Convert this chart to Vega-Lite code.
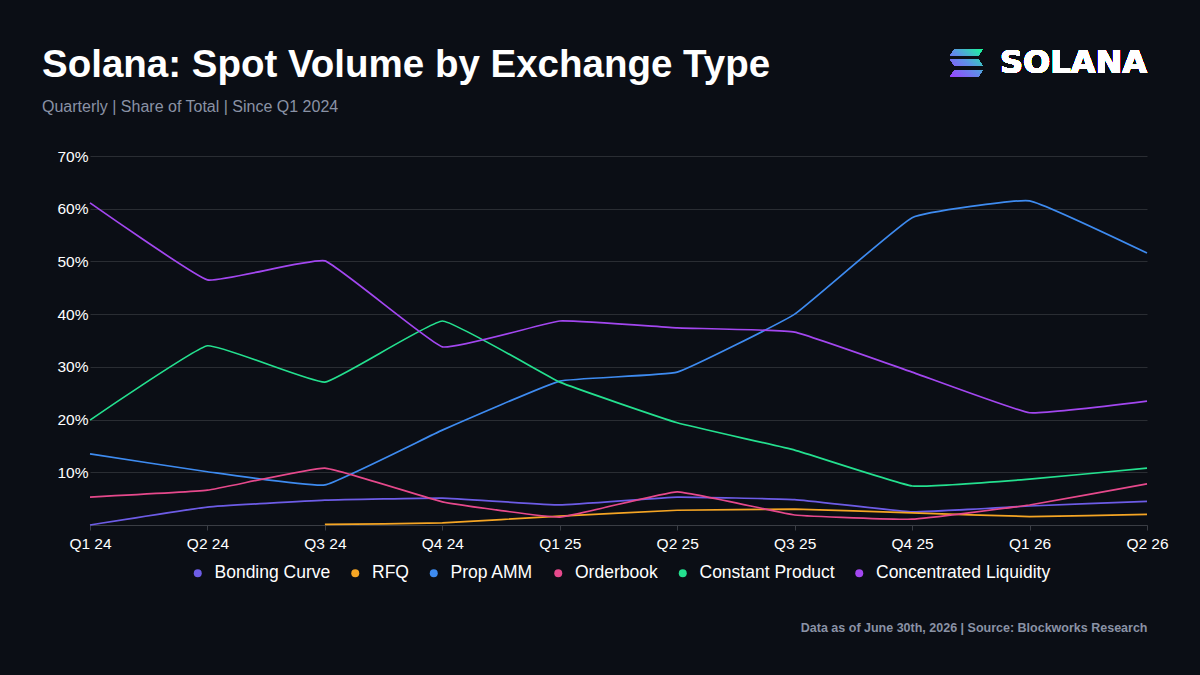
{
  "$schema": "https://vega.github.io/schema/vega-lite/v6.json",
  "autosize": "none",
  "width": 1057,
  "height": 369,
  "padding": {"left": 90, "top": 156, "right": 53, "bottom": 150},
  "background": "#0B0E15",
  "title": {
    "text": "Solana: Spot Volume by Exchange Type",
    "subtitle": "Quarterly | Share of Total | Since Q1 2024",
    "anchor": "start",
    "frame": "group",
    "dx": -48,
    "dy": 91,
    "offset": 22,
    "font": "Liberation Sans",
    "fontSize": 38.5,
    "fontWeight": "bold",
    "color": "#FFFFFF",
    "subtitleFont": "Liberation Sans",
    "subtitleFontSize": 16,
    "subtitleColor": "#8A92A5",
    "subtitlePadding": 13
  },
  "data": {
    "values": [
      {"quarter": "Q1 24", "type": "Bonding Curve", "share": 0.0},
      {"quarter": "Q2 24", "type": "Bonding Curve", "share": 0.034},
      {"quarter": "Q3 24", "type": "Bonding Curve", "share": 0.047},
      {"quarter": "Q4 24", "type": "Bonding Curve", "share": 0.051},
      {"quarter": "Q1 25", "type": "Bonding Curve", "share": 0.038},
      {"quarter": "Q2 25", "type": "Bonding Curve", "share": 0.053},
      {"quarter": "Q3 25", "type": "Bonding Curve", "share": 0.048},
      {"quarter": "Q4 25", "type": "Bonding Curve", "share": 0.025},
      {"quarter": "Q1 26", "type": "Bonding Curve", "share": 0.036},
      {"quarter": "Q2 26", "type": "Bonding Curve", "share": 0.045},
      {"quarter": "Q3 24", "type": "RFQ", "share": 0.001},
      {"quarter": "Q4 24", "type": "RFQ", "share": 0.004},
      {"quarter": "Q1 25", "type": "RFQ", "share": 0.017},
      {"quarter": "Q2 25", "type": "RFQ", "share": 0.028},
      {"quarter": "Q3 25", "type": "RFQ", "share": 0.030},
      {"quarter": "Q4 25", "type": "RFQ", "share": 0.023},
      {"quarter": "Q1 26", "type": "RFQ", "share": 0.016},
      {"quarter": "Q2 26", "type": "RFQ", "share": 0.020},
      {"quarter": "Q1 24", "type": "Prop AMM", "share": 0.135},
      {"quarter": "Q2 24", "type": "Prop AMM", "share": 0.101},
      {"quarter": "Q3 24", "type": "Prop AMM", "share": 0.076},
      {"quarter": "Q4 24", "type": "Prop AMM", "share": 0.18},
      {"quarter": "Q1 25", "type": "Prop AMM", "share": 0.273},
      {"quarter": "Q2 25", "type": "Prop AMM", "share": 0.29},
      {"quarter": "Q3 25", "type": "Prop AMM", "share": 0.40},
      {"quarter": "Q4 25", "type": "Prop AMM", "share": 0.583},
      {"quarter": "Q1 26", "type": "Prop AMM", "share": 0.615},
      {"quarter": "Q2 26", "type": "Prop AMM", "share": 0.516},
      {"quarter": "Q1 24", "type": "Orderbook", "share": 0.053},
      {"quarter": "Q2 24", "type": "Orderbook", "share": 0.066},
      {"quarter": "Q3 24", "type": "Orderbook", "share": 0.108},
      {"quarter": "Q4 24", "type": "Orderbook", "share": 0.044},
      {"quarter": "Q1 25", "type": "Orderbook", "share": 0.015},
      {"quarter": "Q2 25", "type": "Orderbook", "share": 0.063},
      {"quarter": "Q3 25", "type": "Orderbook", "share": 0.019},
      {"quarter": "Q4 25", "type": "Orderbook", "share": 0.011},
      {"quarter": "Q1 26", "type": "Orderbook", "share": 0.038},
      {"quarter": "Q2 26", "type": "Orderbook", "share": 0.078},
      {"quarter": "Q1 24", "type": "Constant Product", "share": 0.199},
      {"quarter": "Q2 24", "type": "Constant Product", "share": 0.34},
      {"quarter": "Q3 24", "type": "Constant Product", "share": 0.271},
      {"quarter": "Q4 24", "type": "Constant Product", "share": 0.387},
      {"quarter": "Q1 25", "type": "Constant Product", "share": 0.271},
      {"quarter": "Q2 25", "type": "Constant Product", "share": 0.194},
      {"quarter": "Q3 25", "type": "Constant Product", "share": 0.142},
      {"quarter": "Q4 25", "type": "Constant Product", "share": 0.074},
      {"quarter": "Q1 26", "type": "Constant Product", "share": 0.087},
      {"quarter": "Q2 26", "type": "Constant Product", "share": 0.108},
      {"quarter": "Q1 24", "type": "Concentrated Liquidity", "share": 0.611},
      {"quarter": "Q2 24", "type": "Concentrated Liquidity", "share": 0.465},
      {"quarter": "Q3 24", "type": "Concentrated Liquidity", "share": 0.501},
      {"quarter": "Q4 24", "type": "Concentrated Liquidity", "share": 0.338},
      {"quarter": "Q1 25", "type": "Concentrated Liquidity", "share": 0.387},
      {"quarter": "Q2 25", "type": "Concentrated Liquidity", "share": 0.374},
      {"quarter": "Q3 25", "type": "Concentrated Liquidity", "share": 0.366},
      {"quarter": "Q4 25", "type": "Concentrated Liquidity", "share": 0.29},
      {"quarter": "Q1 26", "type": "Concentrated Liquidity", "share": 0.213},
      {"quarter": "Q2 26", "type": "Concentrated Liquidity", "share": 0.235}
    ]
  },
  "layer": [
    {
      "mark": {"type": "line", "interpolate": "cardinal", "tension": 0.7, "strokeWidth": 1.7},
      "encoding": {
        "x": {
          "field": "quarter",
          "type": "ordinal",
          "sort": ["Q1 24", "Q2 24", "Q3 24", "Q4 24", "Q1 25", "Q2 25", "Q3 25", "Q4 25", "Q1 26", "Q2 26"],
          "scale": {"type": "point", "padding": 0},
          "axis": {
            "title": "Data as of June 30th, 2026 | Source: Blockworks Research",
            "titleAnchor": "end",
            "titleAlign": "right",
            "titleBaseline": "alphabetic",
            "titleY": 106,
            "titleFont": "Liberation Sans",
            "titleFontSize": 12.5,
            "titleFontWeight": "bold",
            "titleColor": "#8A92A5",
            "labelAngle": 0,
            "labelFont": "Liberation Sans",
            "labelFontSize": 15.5,
            "labelColor": "#FFFFFF",
            "labelPadding": 6,
            "domainColor": "#3A3D44",
            "tickColor": "#3A3D44",
            "tickSize": 5,
            "grid": false
          }
        },
        "y": {
          "field": "share",
          "type": "quantitative",
          "scale": {"domain": [0, 0.7], "nice": false},
          "axis": {
            "title": null,
            "values": [0, 0.1, 0.2, 0.3, 0.4, 0.5, 0.6, 0.7],
            "labelExpr": "datum.value == 0 ? '' : format(datum.value, '.0%')",
            "labelFont": "Liberation Sans",
            "labelFontSize": 15.5,
            "labelColor": "#FFFFFF",
            "labelPadding": 2,
            "domain": false,
            "ticks": false,
            "gridColor": "#2A2D33",
            "gridWidth": 1.2
          }
        },
        "color": {
          "field": "type",
          "type": "nominal",
          "scale": {
            "domain": ["Bonding Curve", "RFQ", "Prop AMM", "Orderbook", "Constant Product", "Concentrated Liquidity"],
            "range": ["#6D5CE6", "#F5A524", "#3E8BF0", "#E6498C", "#24E08F", "#A347F0"]
          },
          "legend": {
            "title": null,
            "orient": "none",
            "direction": "horizontal",
            "legendX": 99,
            "legendY": 408,
            "symbolType": "circle",
            "symbolSize": 64,
            "symbolStrokeWidth": 0,
            "labelFont": "Liberation Sans",
            "labelFontSize": 17.5,
            "labelColor": "#FFFFFF",
            "labelLimit": 300,
            "columnPadding": 15.5,
            "labelOffset": 8,
            "encode": {
              "symbols": {
                "update": {
                  "fill": {"scale": "color", "field": "value"},
                  "fillOpacity": {"value": 1}
                }
              }
            }
          }
        }
      }
    },
    {
      "mark": {
        "type": "text",
        "text": "SOLANA",
        "align": "right",
        "baseline": "middle",
        "font": "DejaVu Sans",
        "fontSize": 32,
        "fontWeight": "bold",
        "color": "#FFFFFF"
      },
      "encoding": {
        "x": {"datum": "Q2 26"},
        "y": {"datum": 0.877}
      }
    },
    {
      "mark": {
        "type": "point",
        "filled": true,
        "opacity": 1,
        "size": 1024,
        "xOffset": -63,
        "shape": "M -0.75 -0.85 L 1 -0.85 L 0.75 -0.47 L -1 -0.47 Z M -1 -0.19 L 0.75 -0.19 L 1 0.19 L -0.75 0.19 Z M -0.75 0.47 L 1 0.47 L 0.75 0.85 L -1 0.85 Z",
        "color": {
          "gradient": "linear",
          "x1": 1, "y1": 0, "x2": 0, "y2": 1,
          "stops": [
            {"offset": 0, "color": "#19FB9B"},
            {"offset": 0.5, "color": "#5E8FE8"},
            {"offset": 1, "color": "#9945FF"}
          ]
        }
      },
      "encoding": {
        "x": {"datum": "Q1 26"},
        "y": {"datum": 0.877}
      }
    }
  ],
  "config": {
    "view": {"stroke": null}
  }
}
